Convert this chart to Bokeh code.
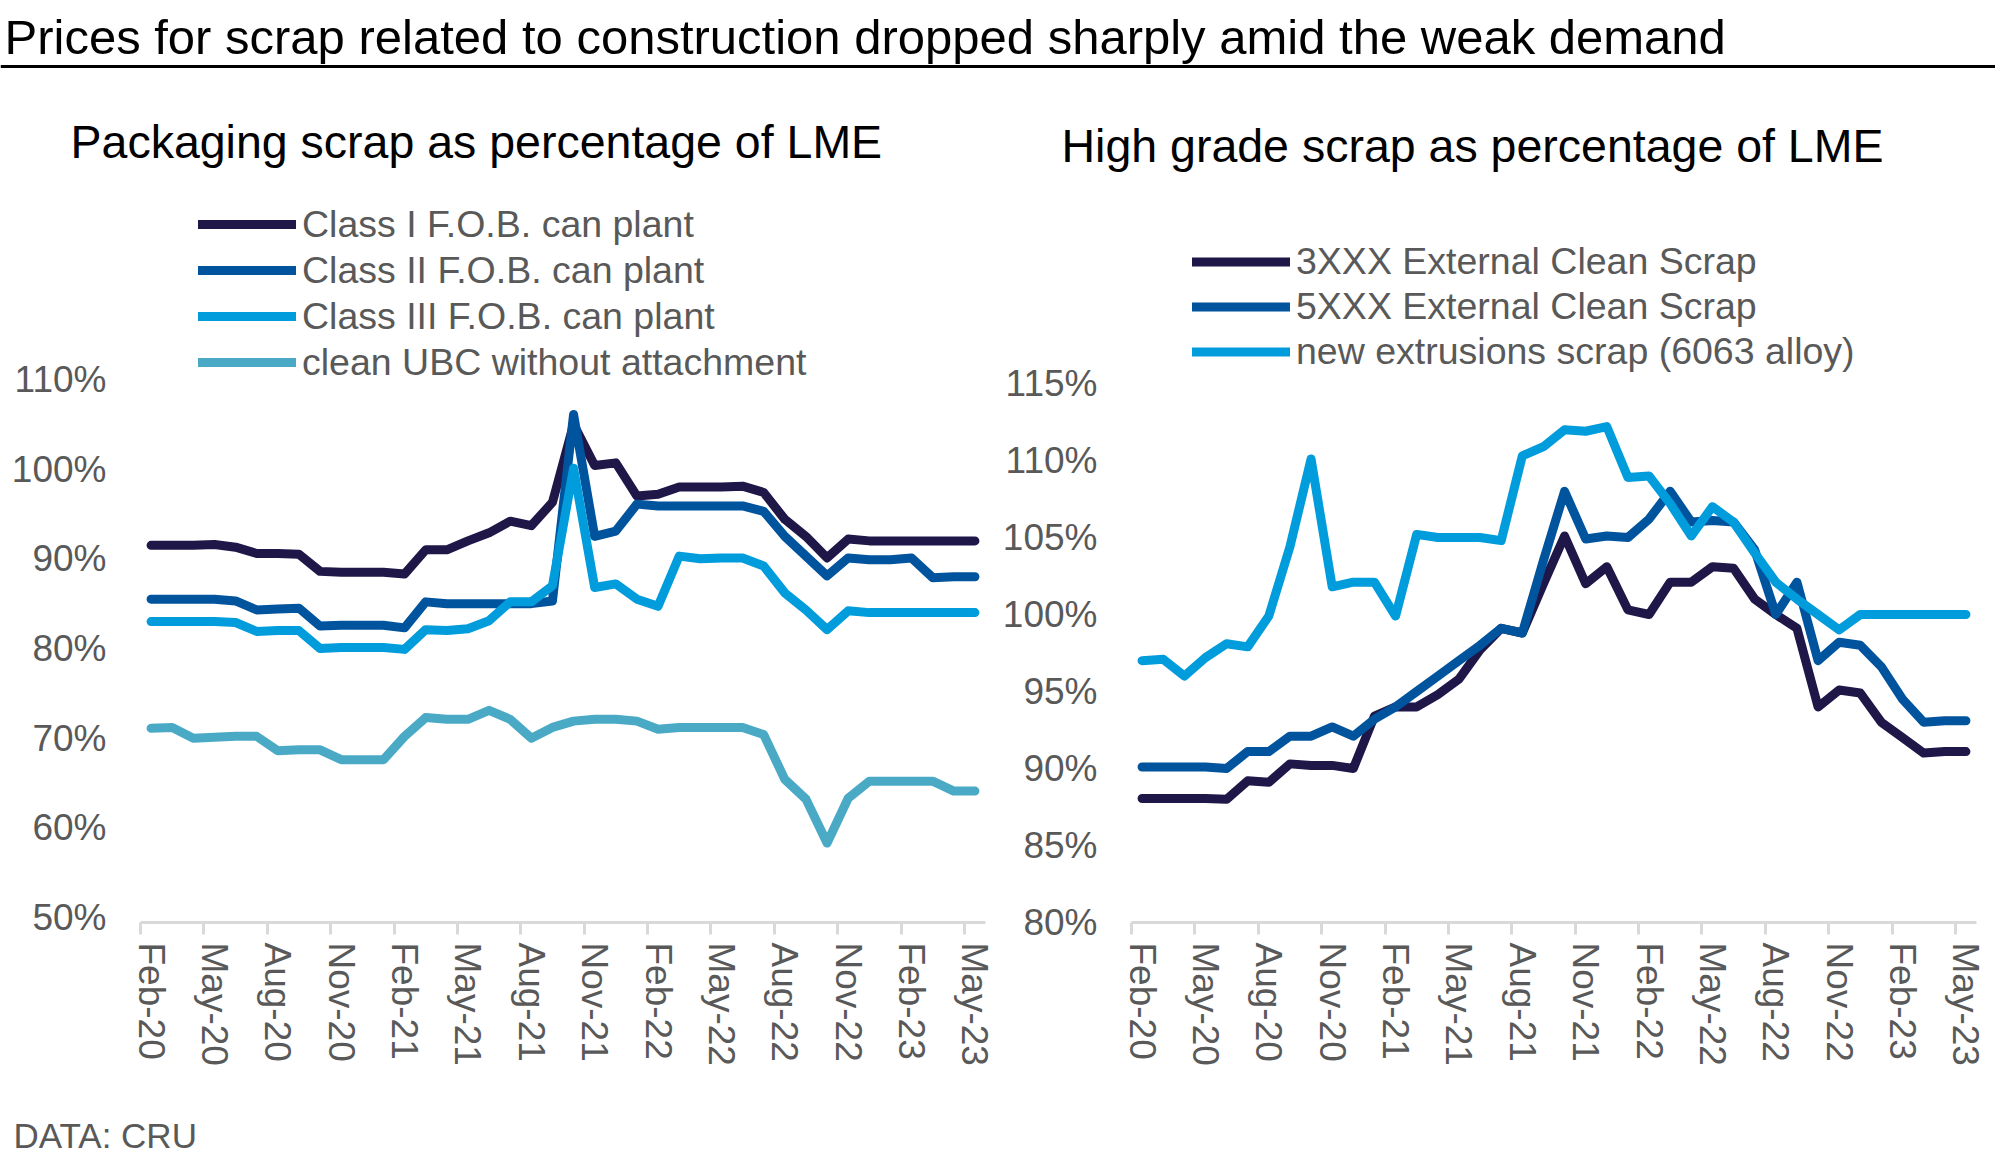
from bokeh.plotting import figure
from bokeh.layouts import column, row
from bokeh.models import (Range1d, FixedTicker, PrintfTickFormatter, Legend,
                          LegendItem, Title, Span, ColumnDataSource)
from bokeh.embed import file_html
from bokeh.resources import INLINE
from bokeh.core.properties import value

FONT = "Liberation Sans"
GRAY = "#595959"

# ---------------- data ----------------
main_title = "Prices for scrap related to construction dropped sharply amid the weak demand"
left_title = "Packaging scrap as percentage of LME"
right_title = "High grade scrap as percentage of LME"
source_note = "DATA: CRU"

# monthly categories Feb-20 ... May-23 (40 months); labelled every 3rd month
n_months = 40
tick_labels = ["Feb-20", "May-20", "Aug-20", "Nov-20", "Feb-21", "May-21", "Aug-21",
               "Nov-21", "Feb-22", "May-22", "Aug-22", "Nov-22", "Feb-23", "May-23"]

left_names = ["Class I F.O.B. can plant", "Class II F.O.B. can plant",
              "Class III F.O.B. can plant", "clean UBC without attachment"]
class1 = [91.5, 91.5, 91.5, 91.6, 91.3, 90.6, 90.6, 90.5, 88.6, 88.5,
          88.5, 88.5, 88.3, 91.0, 91.0, 92.0, 92.9, 94.2, 93.7, 96.3,
          105.0, 100.4, 100.7, 97.0, 97.2, 98.0, 98.0, 98.0, 98.1, 97.4,
          94.4, 92.5, 90.1, 92.2, 92.0, 92.0, 92.0, 92.0, 92.0, 92.0]
class2 = [85.5, 85.5, 85.5, 85.5, 85.3, 84.3, 84.4, 84.5, 82.5, 82.6,
          82.6, 82.6, 82.3, 85.2, 85.0, 85.0, 85.0, 85.0, 85.0, 85.3,
          106.1, 92.5, 93.1, 96.1, 95.9, 95.9, 95.9, 95.9, 95.9, 95.3,
          92.5, 90.3, 88.1, 90.1, 89.9, 89.9, 90.1, 87.9, 88.0, 88.0]
class3 = [83.0, 83.0, 83.0, 83.0, 82.9, 81.9, 82.0, 82.0, 80.0, 80.1,
          80.1, 80.1, 79.9, 82.1, 82.0, 82.2, 83.1, 85.2, 85.2, 87.0,
          100.1, 86.8, 87.2, 85.5, 84.7, 90.3, 90.0, 90.1, 90.1, 89.2,
          86.2, 84.3, 82.1, 84.2, 84.0, 84.0, 84.0, 84.0, 84.0, 84.0]
ubc = [71.1, 71.2, 70.0, 70.1, 70.2, 70.2, 68.6, 68.7, 68.7, 67.6,
       67.6, 67.6, 70.2, 72.3, 72.1, 72.1, 73.1, 72.1, 70.0, 71.2,
       71.9, 72.1, 72.1, 71.9, 71.0, 71.2, 71.2, 71.2, 71.2, 70.4,
       65.4, 63.2, 58.3, 63.3, 65.2, 65.2, 65.2, 65.2, 64.1, 64.1]

right_names = ["3XXX External Clean Scrap", "5XXX External Clean Scrap",
               "new extrusions scrap (6063 alloy)"]
x3xxx = [88.05, 88.05, 88.05, 88.05, 88.0, 89.2, 89.1, 90.3, 90.2, 90.2,
         90.0, 93.4, 94.0, 94.0, 94.8, 95.8, 97.7, 99.1, 98.8, 102.0,
         105.1, 102.0, 103.1, 100.3, 100.0, 102.1, 102.1, 103.1, 103.0, 101.0,
         100.0, 99.1, 94.0, 95.1, 94.9, 93.0, 92.0, 91.0, 91.1, 91.1]
x5xxx = [90.1, 90.1, 90.1, 90.1, 90.0, 91.1, 91.1, 92.1, 92.1, 92.7,
         92.1, 93.2, 94.0, 95.0, 96.0, 97.0, 98.0, 99.1, 98.8, 103.5,
         108.0, 104.9, 105.1, 105.0, 106.2, 108.0, 106.0, 106.1, 106.0, 104.2,
         100.0, 102.1, 97.0, 98.2, 98.0, 96.6, 94.5, 93.0, 93.1, 93.1]
extrusions = [97.0, 97.1, 96.0, 97.2, 98.1, 97.9, 99.9, 104.4, 110.1, 101.8,
              102.1, 102.1, 99.9, 105.2, 105.0, 105.0, 105.0, 104.8, 110.3, 110.9,
              112.0, 111.9, 112.2, 108.9, 109.0, 107.2, 105.1, 107.0, 106.0, 104.0,
              102.1, 101.0, 100.0, 99.0, 100.0, 100.0, 100.0, 100.0, 100.0, 100.0]

left_ticks = [50, 60, 70, 80, 90, 100, 110]
right_ticks = [80, 85, 90, 95, 100, 105, 110, 115]

left_colors = ["#201749", "#00539D", "#009CDC", "#4AAAC6"]
right_colors = ["#201749", "#00539D", "#009CDC"]

# ---------------- helpers ----------------
x_pos = [i + 0.5 for i in range(n_months)]
label_pos = [i + 0.5 for i in range(0, n_months, 3)]
bound_pos = [i for i in range(0, n_months, 3)]

PANEL_H = 1030
BORDER_TOP = 102
BORDER_BOTTOM = 178
FRAME_H = PANEL_H - BORDER_TOP - BORDER_BOTTOM


def make_panel(width, border_left, border_right, y_lo, y_hi, ticks,
               subtitle, title_offset, title_standoff, series, names, colors,
               legend_xy, row_h):
    p = figure(width=width, height=PANEL_H, output_backend="svg", toolbar_location=None,
               x_range=Range1d(0, n_months), y_range=Range1d(y_lo, y_hi),
               min_border_left=border_left, min_border_right=border_right,
               min_border_top=BORDER_TOP, min_border_bottom=BORDER_BOTTOM)
    p.outline_line_color = None
    p.grid.visible = False
    p.background_fill_color = "white"
    p.border_fill_color = "white"

    p.title = Title(text=subtitle, align="left", offset=title_offset, text_font=FONT,
                    text_font_size="46.5px", text_font_style="normal", text_color="black",
                    standoff=title_standoff)

    xa = p.xaxis[0]
    xa.ticker = FixedTicker(ticks=label_pos, minor_ticks=bound_pos)
    xa.major_label_overrides = {t: lab for t, lab in zip(label_pos, tick_labels)}
    xa.major_label_orientation = "vertical"
    xa.major_label_text_font = FONT
    xa.major_label_text_font_size = "37px"
    xa.major_label_text_color = GRAY
    xa.major_label_standoff = 8
    xa.major_tick_in = 0
    xa.major_tick_out = 0
    xa.major_tick_line_color = None
    xa.minor_tick_in = 0
    xa.minor_tick_out = 12
    xa.minor_tick_line_color = "#D9D9D9"
    xa.minor_tick_line_width = 3
    xa.axis_line_color = "#D9D9D9"
    xa.axis_line_width = 3

    ya = p.yaxis[0]
    ya.ticker = FixedTicker(ticks=ticks, minor_ticks=[])
    ya.formatter = PrintfTickFormatter(format="%d%%")
    ya.major_label_text_font = FONT
    ya.major_label_text_font_size = "37px"
    ya.major_label_text_color = GRAY
    ya.major_label_standoff = 34
    ya.major_tick_in = 0
    ya.major_tick_out = 0
    ya.major_tick_line_color = None
    ya.minor_tick_line_color = None
    ya.axis_line_color = None

    items = []
    for vals, name, col in zip(series, names, colors):
        src = ColumnDataSource(dict(x=x_pos, y=vals))
        r = p.line("x", "y", source=src, line_color=col, line_width=9,
                   line_cap="round", line_join="round")
        items.append(LegendItem(label=name, renderers=[r]))

    leg = Legend(items=items, location=legend_xy, orientation="vertical",
                 label_text_font=FONT, label_text_font_size="37.5px",
                 label_text_color=GRAY, glyph_width=98, glyph_height=row_h,
                 label_height=row_h, label_standoff=6, spacing=0, padding=0,
                 margin=0, border_line_color=None, background_fill_alpha=0)
    p.add_layout(leg)
    return p


# ---------------- panels ----------------
# common frame: page y 172 (top) .. 922 (bottom)
# left: 8.967 px per 1 %, 50 % drawn 5 px above the frame bottom
l_px = 8.967
l_lo = 50 - 5 / l_px
left = make_panel(996, 140, 11, l_lo, l_lo + FRAME_H / l_px, left_ticks,
                  left_title, -70, 10, [class1, class2, class3, ubc], left_names,
                  left_colors, (58, 537), 46)

# right: 15.4 px per 1 %, 80 % at the frame bottom
r_px = 15.4
r_lo = 80
right = make_panel(999, 135, 19, r_lo, r_lo + FRAME_H / r_px, right_ticks,
                   right_title, -70, 2, [x3xxx, x5xxx, extrusions], right_names,
                   right_colors, (61, 548.5), 45)

# header
head = figure(width=1995, height=70, output_backend="svg", toolbar_location=None,
              x_range=Range1d(0, 1995), y_range=Range1d(0, 70), min_border=0,
              x_axis_location=None, y_axis_location=None, title=None)
head.outline_line_color = None
head.grid.visible = False
head.text(x=[4], y=[34], text=[main_title], text_font=value(FONT), text_font_size="49px",
          text_color="black", text_baseline="alphabetic", text_align="left")
head.add_layout(Span(location=4, dimension="width", line_color="black", line_width=3))

# footer
foot = figure(width=1995, height=58, output_backend="svg", toolbar_location=None,
              x_range=Range1d(0, 1995), y_range=Range1d(0, 58), min_border=0,
              x_axis_location=None, y_axis_location=None, title=None)
foot.outline_line_color = None
foot.grid.visible = False
foot.text(x=[13], y=[23], text=[source_note], text_font=value(FONT), text_font_size="35px",
          text_color=GRAY, text_baseline="alphabetic", text_align="left")

page = column(head, row(left, right), foot)
open("out.html", "w").write(file_html(page, INLINE))
